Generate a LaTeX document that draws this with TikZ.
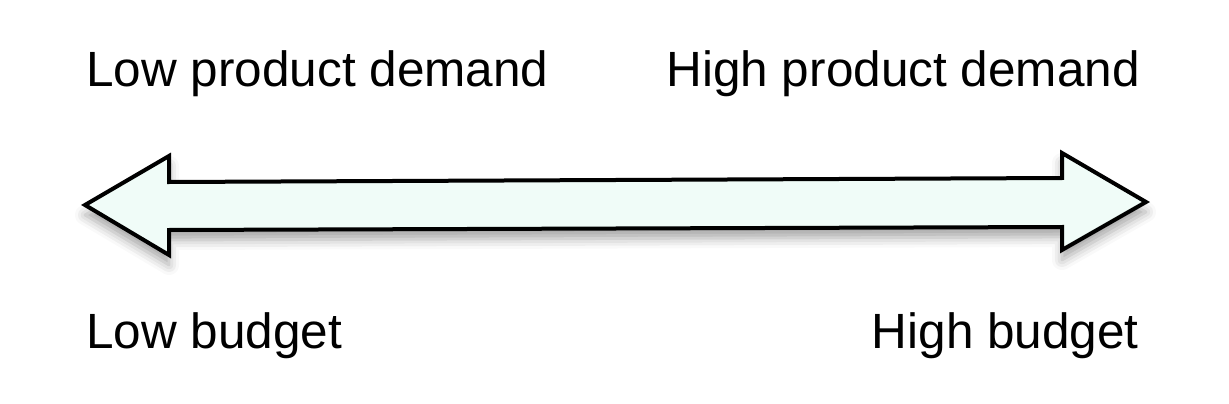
\documentclass[tikz,border=0pt]{standalone}
\usepackage{fontspec}
\setmainfont{Liberation Sans}
\usetikzlibrary{shadows.blur}
\definecolor{arrowfill}{RGB}{240,252,248}
\tikzset{
  lbl/.style={font=\fontsize{49.5}{54}\selectfont, inner sep=0pt, text=black},
  bigarrow/.style={draw=black, line width=4pt, line join=miter, fill=arrowfill,
    blur shadow={shadow xshift=0pt, shadow yshift=-10pt, shadow blur radius=10pt, shadow opacity=35}}
}
\begin{document}
\begin{tikzpicture}[x=1pt,y=-1pt]
\useasboundingbox (0,0) rectangle (1229,404);
\draw[bigarrow] (85,205) -- (169,156) -- (169,182) -- (1062,178) -- (1062,153) -- (1146,202)
  -- (1062,250) -- (1062,227) -- (169,230) -- (169,255) -- cycle;
\node[lbl, anchor=base west] (lowdem) at (86,86) {Low product demand};
\node[lbl, anchor=base east] (highdem) at (1140,86) {High product demand};
\node[lbl, anchor=base west] (lowbud) at (86,348) {Low budget};
\node[lbl, anchor=base east] (highbud) at (1139,348) {High budget};
\end{tikzpicture}
\end{document}
